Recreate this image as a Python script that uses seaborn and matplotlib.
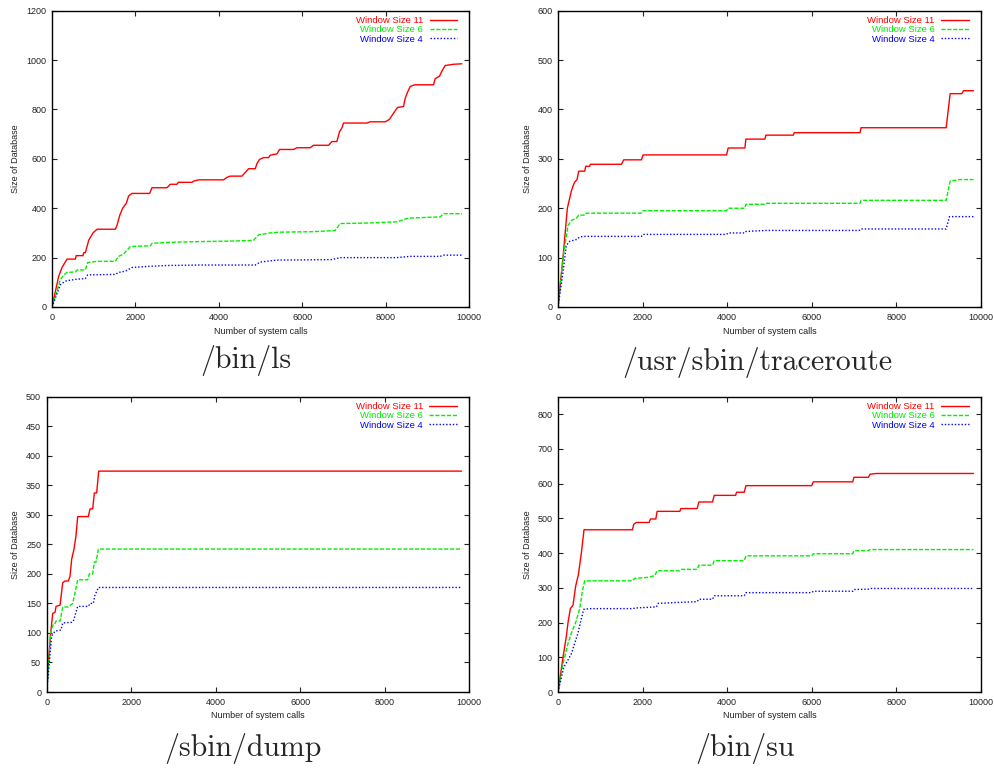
import pandas as pd
import matplotlib.pyplot as plt
import seaborn as sns

sns.set_theme(style="ticks")
plt.rcParams['font.family'] = ['Liberation Sans', 'DejaVu Sans']

# (system calls, database size)
ls_w11 = [(0, 0), (160, 124), (240, 160), (360, 194), (560, 194), (580, 208), (743, 208), (760, 220),
          (800, 220), (880, 270), (983, 300), (1080, 315), (1518, 315), (1558, 330), (1622, 370),
          (1694, 400), (1782, 420), (1838, 450), (1918, 460), (2341, 460), (2397, 483), (2757, 483),
          (2837, 497), (2996, 497), (3030, 505), (3356, 505), (3400, 510), (3516, 515), (4115, 515),
          (4195, 525), (4275, 530), (4554, 530), (4634, 545), (4714, 560), (4874, 560), (4914, 580),
          (4978, 598), (5074, 605), (5194, 605), (5234, 615), (5393, 620), (5457, 638), (5793, 638),
          (5873, 645), (6192, 645), (6272, 655), (6632, 655), (6712, 670), (6832, 670), (6895, 710),
          (6951, 725), (6991, 745), (7551, 745), (7631, 750), (7990, 750), (8094, 760), (8190, 785),
          (8286, 808), (8430, 812), (8470, 845), (8526, 870), (8590, 893), (8700, 900), (9149, 900),
          (9189, 925), (9293, 935), (9349, 955), (9429, 978), (9629, 983), (9829, 985)]
ls_w6 = [(0, 0), (200, 110), (280, 130), (360, 140), (560, 142), (600, 150), (800, 150), (855, 180),
         (1080, 185), (1518, 185), (1598, 205), (1718, 215), (1878, 245), (2357, 248), (2400, 258),
         (2837, 262), (3556, 265), (4355, 267), (4834, 270), (4954, 292), (5234, 300), (5433, 303),
         (6272, 305), (6791, 310), (6911, 338), (7551, 340), (8270, 345), (8550, 360), (9309, 365),
         (9389, 378), (9829, 378)]
ls_w4 = [(0, 0), (200, 90), (320, 105), (560, 112), (800, 115), (855, 130), (1518, 132), (1598, 140),
         (1758, 145), (1918, 160), (2357, 165), (2757, 168), (3556, 170), (4874, 170), (4994, 182),
         (5393, 190), (6712, 192), (6911, 200), (8270, 200), (8590, 205), (9309, 205), (9389, 210),
         (9829, 210)]

tr_w11 = [(0, 0), (118, 100), (221, 200), (276, 220), (316, 235), (355, 245), (395, 253), (450, 258),
          (489, 275), (631, 275), (655, 285), (750, 285), (765, 289), (1499, 289), (1554, 298),
          (1972, 298), (2012, 308), (3984, 308), (4024, 322), (4418, 322), (4442, 340), (4892, 340),
          (4915, 348), (5562, 348), (5586, 353), (7140, 353), (7164, 363), (9176, 363), (9271, 432),
          (9547, 432), (9586, 438), (9823, 438)]
tr_w6 = [(0, 0), (118, 100), (237, 165), (316, 175), (434, 180), (489, 186), (631, 186), (671, 190),
         (1972, 190), (2012, 195), (3984, 195), (4024, 200), (4418, 200), (4442, 208), (4892, 208),
         (4915, 210), (7140, 210), (7164, 216), (9176, 216), (9271, 255), (9500, 258), (9823, 258)]
tr_w4 = [(0, 0), (118, 70), (197, 125), (276, 133), (450, 137), (513, 142), (631, 143), (1972, 143),
         (2012, 147), (3984, 147), (4024, 150), (4418, 150), (4442, 153), (4915, 155), (7124, 155),
         (7164, 158), (9176, 158), (9255, 183), (9823, 183)]

du_w11 = [(0, 0), (40, 50), (95, 100), (142, 133), (197, 135), (221, 145), (316, 147), (379, 185),
          (434, 188), (513, 188), (552, 196), (592, 225), (647, 242), (694, 265), (734, 297),
          (986, 297), (1026, 310), (1089, 310), (1128, 337), (1183, 337), (1231, 374), (9823, 374)]
du_w6 = [(0, 0), (95, 100), (142, 113), (181, 113), (221, 120), (316, 120), (379, 144), (513, 144),
         (615, 150), (671, 168), (734, 190), (970, 190), (1010, 200), (1089, 200), (1128, 220),
         (1168, 220), (1223, 242), (9823, 242)]
du_w4 = [(0, 0), (118, 95), (197, 103), (339, 105), (379, 117), (592, 118), (631, 120), (734, 145),
         (986, 145), (1026, 150), (1105, 150), (1144, 165), (1183, 170), (1223, 177), (9823, 177)]

su_w11 = [(0, 0), (118, 100), (197, 160), (237, 200), (292, 240), (355, 250), (418, 305), (481, 337),
          (552, 400), (615, 467), (1760, 467), (1791, 483), (1854, 488), (2154, 488), (2186, 498),
          (2312, 498), (2343, 520), (2880, 520), (2904, 528), (3290, 528), (3330, 547), (3653, 547),
          (3693, 566), (4198, 566), (4221, 575), (4403, 575), (4442, 594), (5996, 594), (6036, 605),
          (6967, 605), (6998, 618), (7338, 618), (7377, 627), (7535, 629), (9823, 629)]
su_w6 = [(0, 0), (118, 80), (237, 140), (316, 170), (418, 200), (513, 240), (576, 290), (631, 320),
         (1760, 320), (1815, 327), (2130, 330), (2288, 335), (2343, 349), (2880, 349), (2919, 353),
         (3290, 353), (3330, 365), (3653, 365), (3693, 378), (4403, 378), (4442, 392), (5996, 392),
         (6036, 398), (6967, 398), (6998, 407), (7338, 407), (7377, 410), (9823, 410)]
su_w4 = [(0, 0), (134, 70), (316, 110), (394, 140), (473, 170), (529, 200), (608, 238), (750, 240),
         (1760, 240), (1854, 242), (2328, 245), (2367, 255), (2880, 258), (3290, 260), (3330, 267),
         (3653, 267), (3693, 277), (4403, 277), (4442, 286), (5996, 286), (6036, 290), (6967, 290),
         (6998, 295), (7338, 296), (7377, 298), (9823, 298)]

titles = ["/bin/ls", "/usr/sbin/traceroute", "/sbin/dump", "/bin/su"]
curves = [(ls_w11, ls_w6, ls_w4), (tr_w11, tr_w6, tr_w4), (du_w11, du_w6, du_w4), (su_w11, su_w6, su_w4)]
y_max = [1200, 600, 500, 850]
y_step = [200, 100, 50, 100]
series_names = ["Window Size 11", "Window Size 6", "Window Size 4"]

colors = {"Window Size 11": "#ff0000", "Window Size 6": "#00f000", "Window Size 4": "#0000ff"}
dash_map = {"Window Size 11": "", "Window Size 6": (3, 1.2), "Window Size 4": (1, 1.4)}

W, H = 995, 770
# axes boxes in pixels: left, top, right, bottom
boxes = [(52, 10.7, 469, 307), (558, 10.7, 981, 307), (46.7, 396.7, 469, 692), (558, 396.7, 981, 692)]
ylabel_x = [-0.077, -0.062, -0.064, -0.062]
title_pos = [(246, 361), (757, 362), (243, 748), (745, 748)]

fig = plt.figure(figsize=(W / 100, H / 100), dpi=100)

for i in range(4):
    l, t, r, b = boxes[i]
    ax = fig.add_axes([l / W, (H - b) / H, (r - l) / W, (b - t) / H])
    rows = []
    for name, pts in zip(series_names, curves[i]):
        for x, y in pts:
            rows.append({"calls": x, "size": y, "series": name})
    df = pd.DataFrame(rows)
    sns.lineplot(data=df, x="calls", y="size", hue="series", style="series",
                 palette=colors, dashes=dash_map, hue_order=series_names, style_order=series_names,
                 sort=False, estimator=None, linewidth=1.0, ax=ax)

    ax.set_xlim(0, 10000)
    ax.set_ylim(0, y_max[i])
    ax.set_xticks(range(0, 10001, 2000))
    ax.set_yticks(range(0, y_max[i] + 1, y_step[i]))
    ax.tick_params(direction="in", top=True, right=True, length=3.5, width=0.8,
                   labelsize=6.5, colors="#222222", pad=4)
    for sp in ax.spines.values():
        sp.set_linewidth(1.0)
        sp.set_color("black")

    ax.set_xlabel("Number of system calls", fontsize=6.5, color="#222222")
    ax.set_ylabel("Size of Database", fontsize=6.5, color="#222222")
    ax.xaxis.set_label_coords(0.5, -0.066)
    ax.yaxis.set_label_coords(ylabel_x[i], 0.5)

    handles, labels = ax.get_legend_handles_labels()
    ax.legend(handles, labels, loc="upper right", bbox_to_anchor=(0.971, 0.982),
              frameon=False, markerfirst=False, fontsize=6.8, labelcolor="linecolor",
              handlelength=2.9, handletextpad=0.7, labelspacing=0.03,
              borderaxespad=0, borderpad=0)

    tx, ty = title_pos[i]
    fig.text(tx / W, 1 - ty / H, titles[i], ha="center", va="center",
             family="cmr10", fontsize=21.5)

fig.savefig("out.png", dpi=100)
